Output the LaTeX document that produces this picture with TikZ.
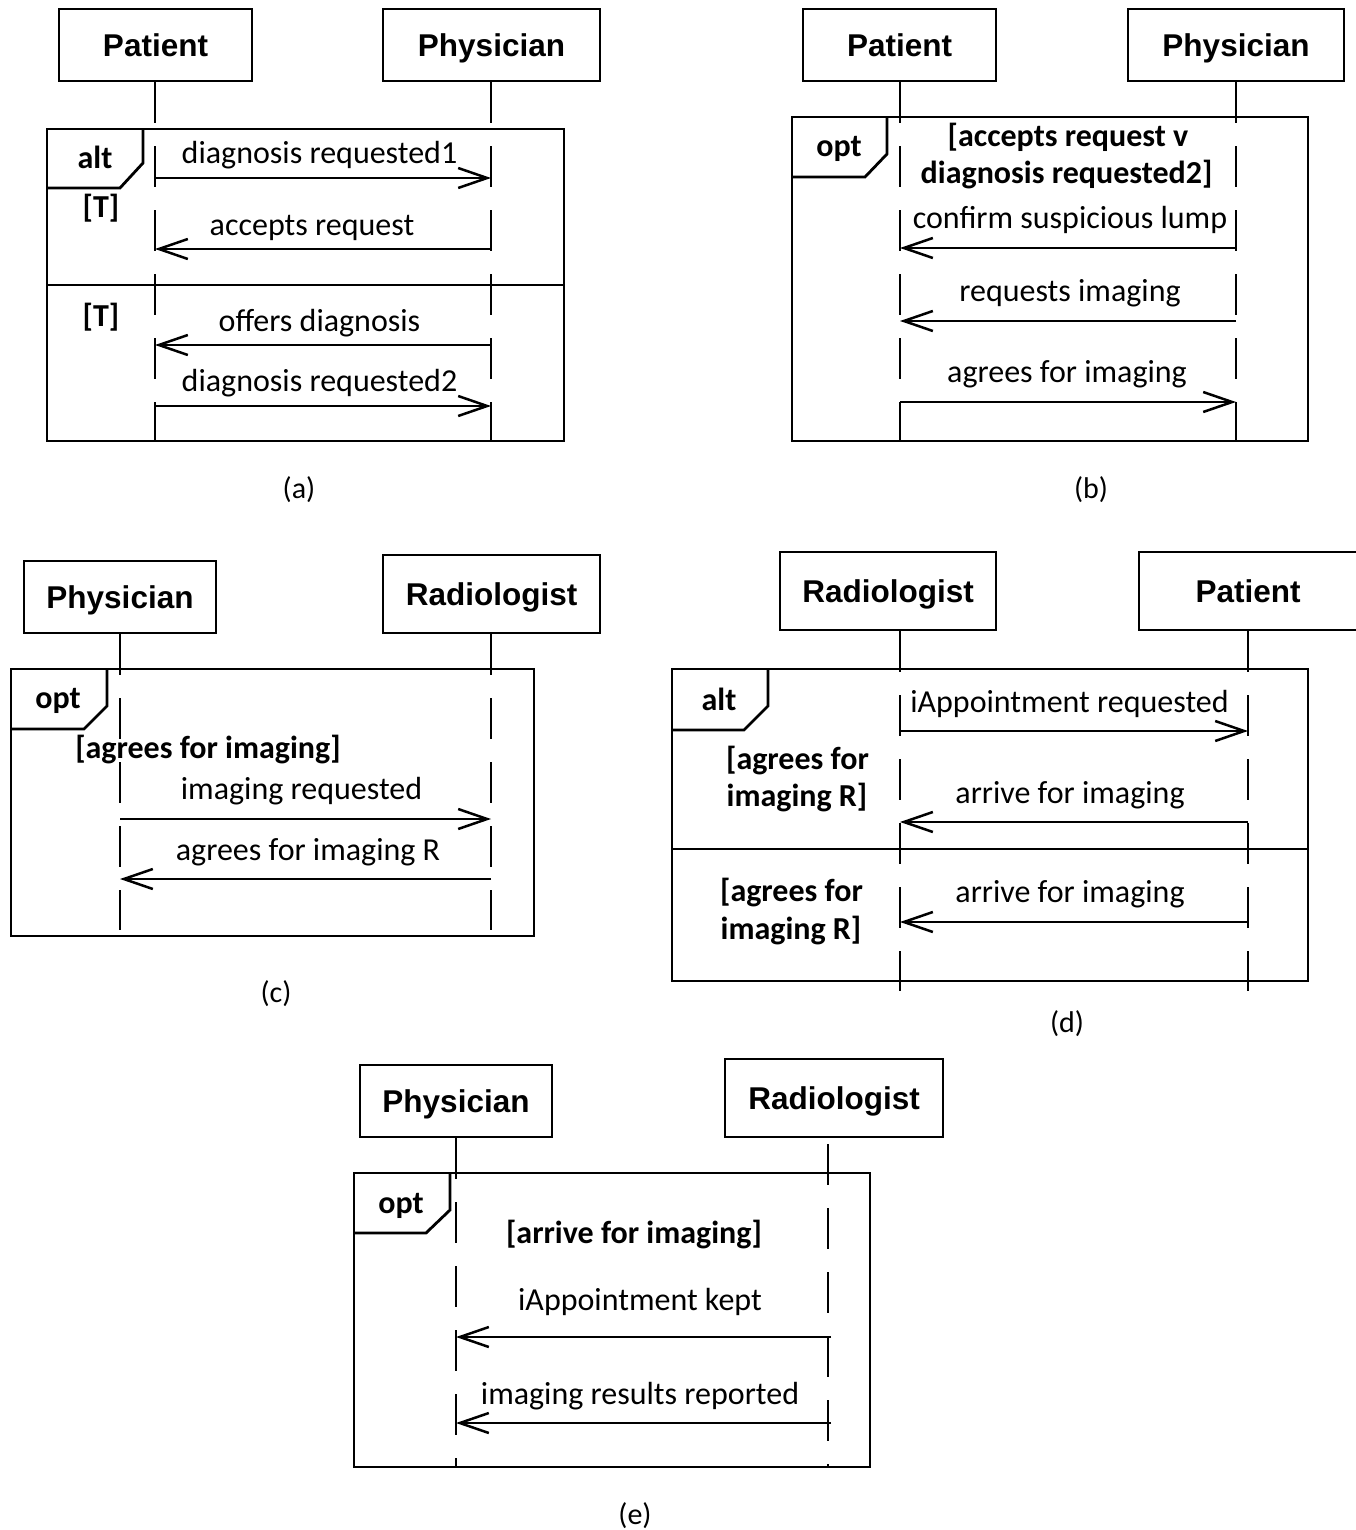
\documentclass[tikz,border=0pt]{standalone}
\usepackage{fontspec}
\setmainfont{Carlito}
\newfontfamily\hdrfont{Liberation Sans}
\usetikzlibrary{arrows.meta}
\begin{document}
\begin{tikzpicture}[x=1pt,y=-1pt,
  hdr/.style={draw, line width=2.8pt, font=\hdrfont\bfseries\fontsize{31.5}{36}\selectfont, inner sep=0pt, text height=22.5pt, text depth=0pt, minimum height=72pt},
  life/.style={line width=2.5pt, dash pattern=on 41pt off 23pt},
  frm/.style={line width=2.8pt},
  msg/.style={line width=2.5pt, -{Straight Barb[length=29pt,width=20pt,line width=2.5pt]}},
  lbl/.style={font=\fontsize{32}{38}\selectfont, anchor=base, inner sep=0pt, yshift=-2pt},
  grd/.style={font=\bfseries\fontsize{32}{38}\selectfont, anchor=base, inner sep=0pt, yshift=-1pt},
  captxt/.style={font=\fontsize{30}{36}\selectfont, anchor=base, inner sep=0pt},
]
\useasboundingbox (0,0) rectangle (1356,1530);

% ================= (a) =================
\node[hdr, minimum width=193pt] (aPat) at (155.5,45) {Patient};
\node[hdr, minimum width=217pt] (aPhy) at (491.5,45) {Physician};
\coordinate (aPatE) at (155,441);
\coordinate (aPhyE) at (491,441);
\draw[life] (aPatE |- aPat.south) -- (aPatE);
\draw[life] (aPhyE |- aPhy.south) -- (aPhyE);
\draw[frm] (47,129) rectangle (564,441);
\draw[frm] (47,188) -- (120,188) -- (143,163) -- (143,129);
\draw[frm] (47,285) -- (564,285);
\node[grd] (aAlt) at (95,168) {alt};
\node[grd] (aG1) at (101,217) {[T]};
\node[grd] (aG2) at (101,325) {[T]};
\coordinate (a1L) at (155,178); \coordinate (a1R) at (491,178);
\coordinate (a2L) at (155,249); \coordinate (a2R) at (491,249);
\coordinate (a3L) at (155,345); \coordinate (a3R) at (491,345);
\coordinate (a4L) at (155,406); \coordinate (a4R) at (491,406);
\draw[msg] (a1L) -- (a1R);
\draw[msg] (a2R) -- (a2L);
\draw[msg] (a3R) -- (a3L);
\draw[msg] (a4L) -- (a4R);
\node[lbl] (aM1) at (319.5,162) {diagnosis requested1};
\node[lbl] (aM2) at (312,234) {accepts request};
\node[lbl] (aM3) at (319.5,329) {offers diagnosis};
\node[lbl] (aM4) at (319.5,389) {diagnosis requested2};
\node[captxt] (capA) at (299,498) {(a)};

% ================= (b) =================
\node[hdr, minimum width=193pt] (bPat) at (899.5,45) {Patient};
\node[hdr, minimum width=216pt] (bPhy) at (1236,45) {Physician};
\coordinate (bPatE) at (900,441);
\coordinate (bPhyE) at (1236,441);
\draw[life] (bPatE |- bPat.south) -- (bPatE);
\draw[life] (bPhyE |- bPhy.south) -- (bPhyE);
\draw[frm] (792,117) rectangle (1308,441);
\draw[frm] (792,177) -- (865,177) -- (887,154) -- (887,117);
\node[grd] (bOpt) at (839,156) {opt};
\node[grd] (bG1) at (1068,146) {[accepts request v};
\node[grd] (bG2) at (1066.5,183) {diagnosis requested2]};
\coordinate (b1L) at (900,248); \coordinate (b1R) at (1236,248);
\coordinate (b2L) at (900,321); \coordinate (b2R) at (1236,321);
\coordinate (b3L) at (900,402); \coordinate (b3R) at (1236,402);
\draw[msg] (b1R) -- (b1L);
\draw[msg] (b2R) -- (b2L);
\draw[msg] (b3L) -- (b3R);
\node[lbl] (bM1) at (1070,227) {confirm suspicious lump};
\node[lbl] (bM2) at (1070,299) {requests imaging};
\node[lbl] (bM3) at (1067,380) {agrees for imaging};
\node[captxt] (capB) at (1091,498) {(b)};

% ================= (c) =================
\node[hdr, minimum width=192pt] (cPhy) at (120,597) {Physician};
\node[hdr, minimum width=217pt, minimum height=78pt] (cRad) at (491.5,594) {Radiologist};
\coordinate (cPhyE) at (120,930);
\coordinate (cRadE) at (491,930);
\draw[life] (cPhyE |- cPhy.south) -- (cPhyE);
\draw[life] (cRadE |- cRad.south) -- (cRadE);
\draw[frm] (11,669) rectangle (534,936);
\draw[frm] (11,729) -- (84,729) -- (107,706) -- (107,669);
\node[grd] (cOpt) at (58,707) {opt};
\node[grd] (cG1) at (208,757) {[agrees for imaging]};
\coordinate (c1L) at (120,819); \coordinate (c1R) at (491,819);
\coordinate (c2L) at (120,879); \coordinate (c2R) at (491,879);
\draw[msg] (c1L) -- (c1R);
\draw[msg] (c2R) -- (c2L);
\node[lbl] (cM1) at (301.5,797) {imaging requested};
\node[lbl] (cM2) at (308,858) {agrees for imaging R};
\node[captxt] (capC) at (276,1002) {(c)};

% ================= (d) =================
\node[hdr, minimum width=216pt, minimum height=78pt] (dRad) at (888,591) {Radiologist};
\node[hdr, minimum width=218pt, minimum height=78pt] (dPat) at (1248,591) {Patient};
\coordinate (dRadE) at (900,991);
\coordinate (dPatE) at (1248,991);
\draw[life] (dRadE |- dRad.south) -- (dRadE);
\draw[life] (dPatE |- dPat.south) -- (dPatE);
\draw[frm] (672,669) rectangle (1308,981);
\draw[frm] (672,730) -- (744,730) -- (768,706) -- (768,669);
\draw[frm] (672,849) -- (1308,849);
\node[grd] (dAlt) at (719,709) {alt};
\node[grd] (dG1a) at (797.5,768) {[agrees for};
\node[grd] (dG1b) at (797,805) {imaging R]};
\node[grd] (dG2a) at (791.5,900) {[agrees for};
\node[grd] (dG2b) at (791,938) {imaging R]};
\coordinate (d1L) at (900,731); \coordinate (d1R) at (1248,731);
\coordinate (d2L) at (900,822); \coordinate (d2R) at (1248,822);
\coordinate (d3L) at (900,922); \coordinate (d3R) at (1248,922);
\draw[msg] (d1L) -- (d1R);
\draw[msg] (d2R) -- (d2L);
\draw[msg] (d3R) -- (d3L);
\node[lbl] (dM1) at (1069.5,710) {iAppointment requested};
\node[lbl] (dM2) at (1070,801) {arrive for imaging};
\node[lbl] (dM3) at (1070,900) {arrive for imaging};
\node[captxt] (capD) at (1067,1032) {(d)};

% ================= (e) =================
\node[hdr, minimum width=192pt] (ePhy) at (456,1101) {Physician};
\node[hdr, minimum width=218pt, minimum height=78pt] (eRad) at (834,1098) {Radiologist};
\coordinate (ePhyE) at (456,1467);
\coordinate (eRadE) at (828,1467);
\draw[life] (ePhyE |- ePhy.south) -- (ePhyE);
\draw[life, dash phase=58pt] (eRadE |- eRad.south) -- (eRadE);
\draw[frm] (354,1173) rectangle (870,1467);
\draw[frm] (354,1233) -- (426,1233) -- (450,1210) -- (450,1173);
\node[grd] (eOpt) at (401,1212) {opt};
\node[grd] (eG1) at (634,1242) {[arrive for imaging]};
\coordinate (e1L) at (456,1337); \coordinate (e1R) at (831,1337);
\coordinate (e2L) at (456,1423); \coordinate (e2R) at (831,1423);
\draw[msg] (e1R) -- (e1L);
\draw[msg] (e2R) -- (e2L);
\node[lbl] (eM1) at (640,1308) {iAppointment kept};
\node[lbl] (eM2) at (640,1402) {imaging results reported};
\node[captxt] (capE) at (635,1524) {(e)};
\end{tikzpicture}
\end{document}
